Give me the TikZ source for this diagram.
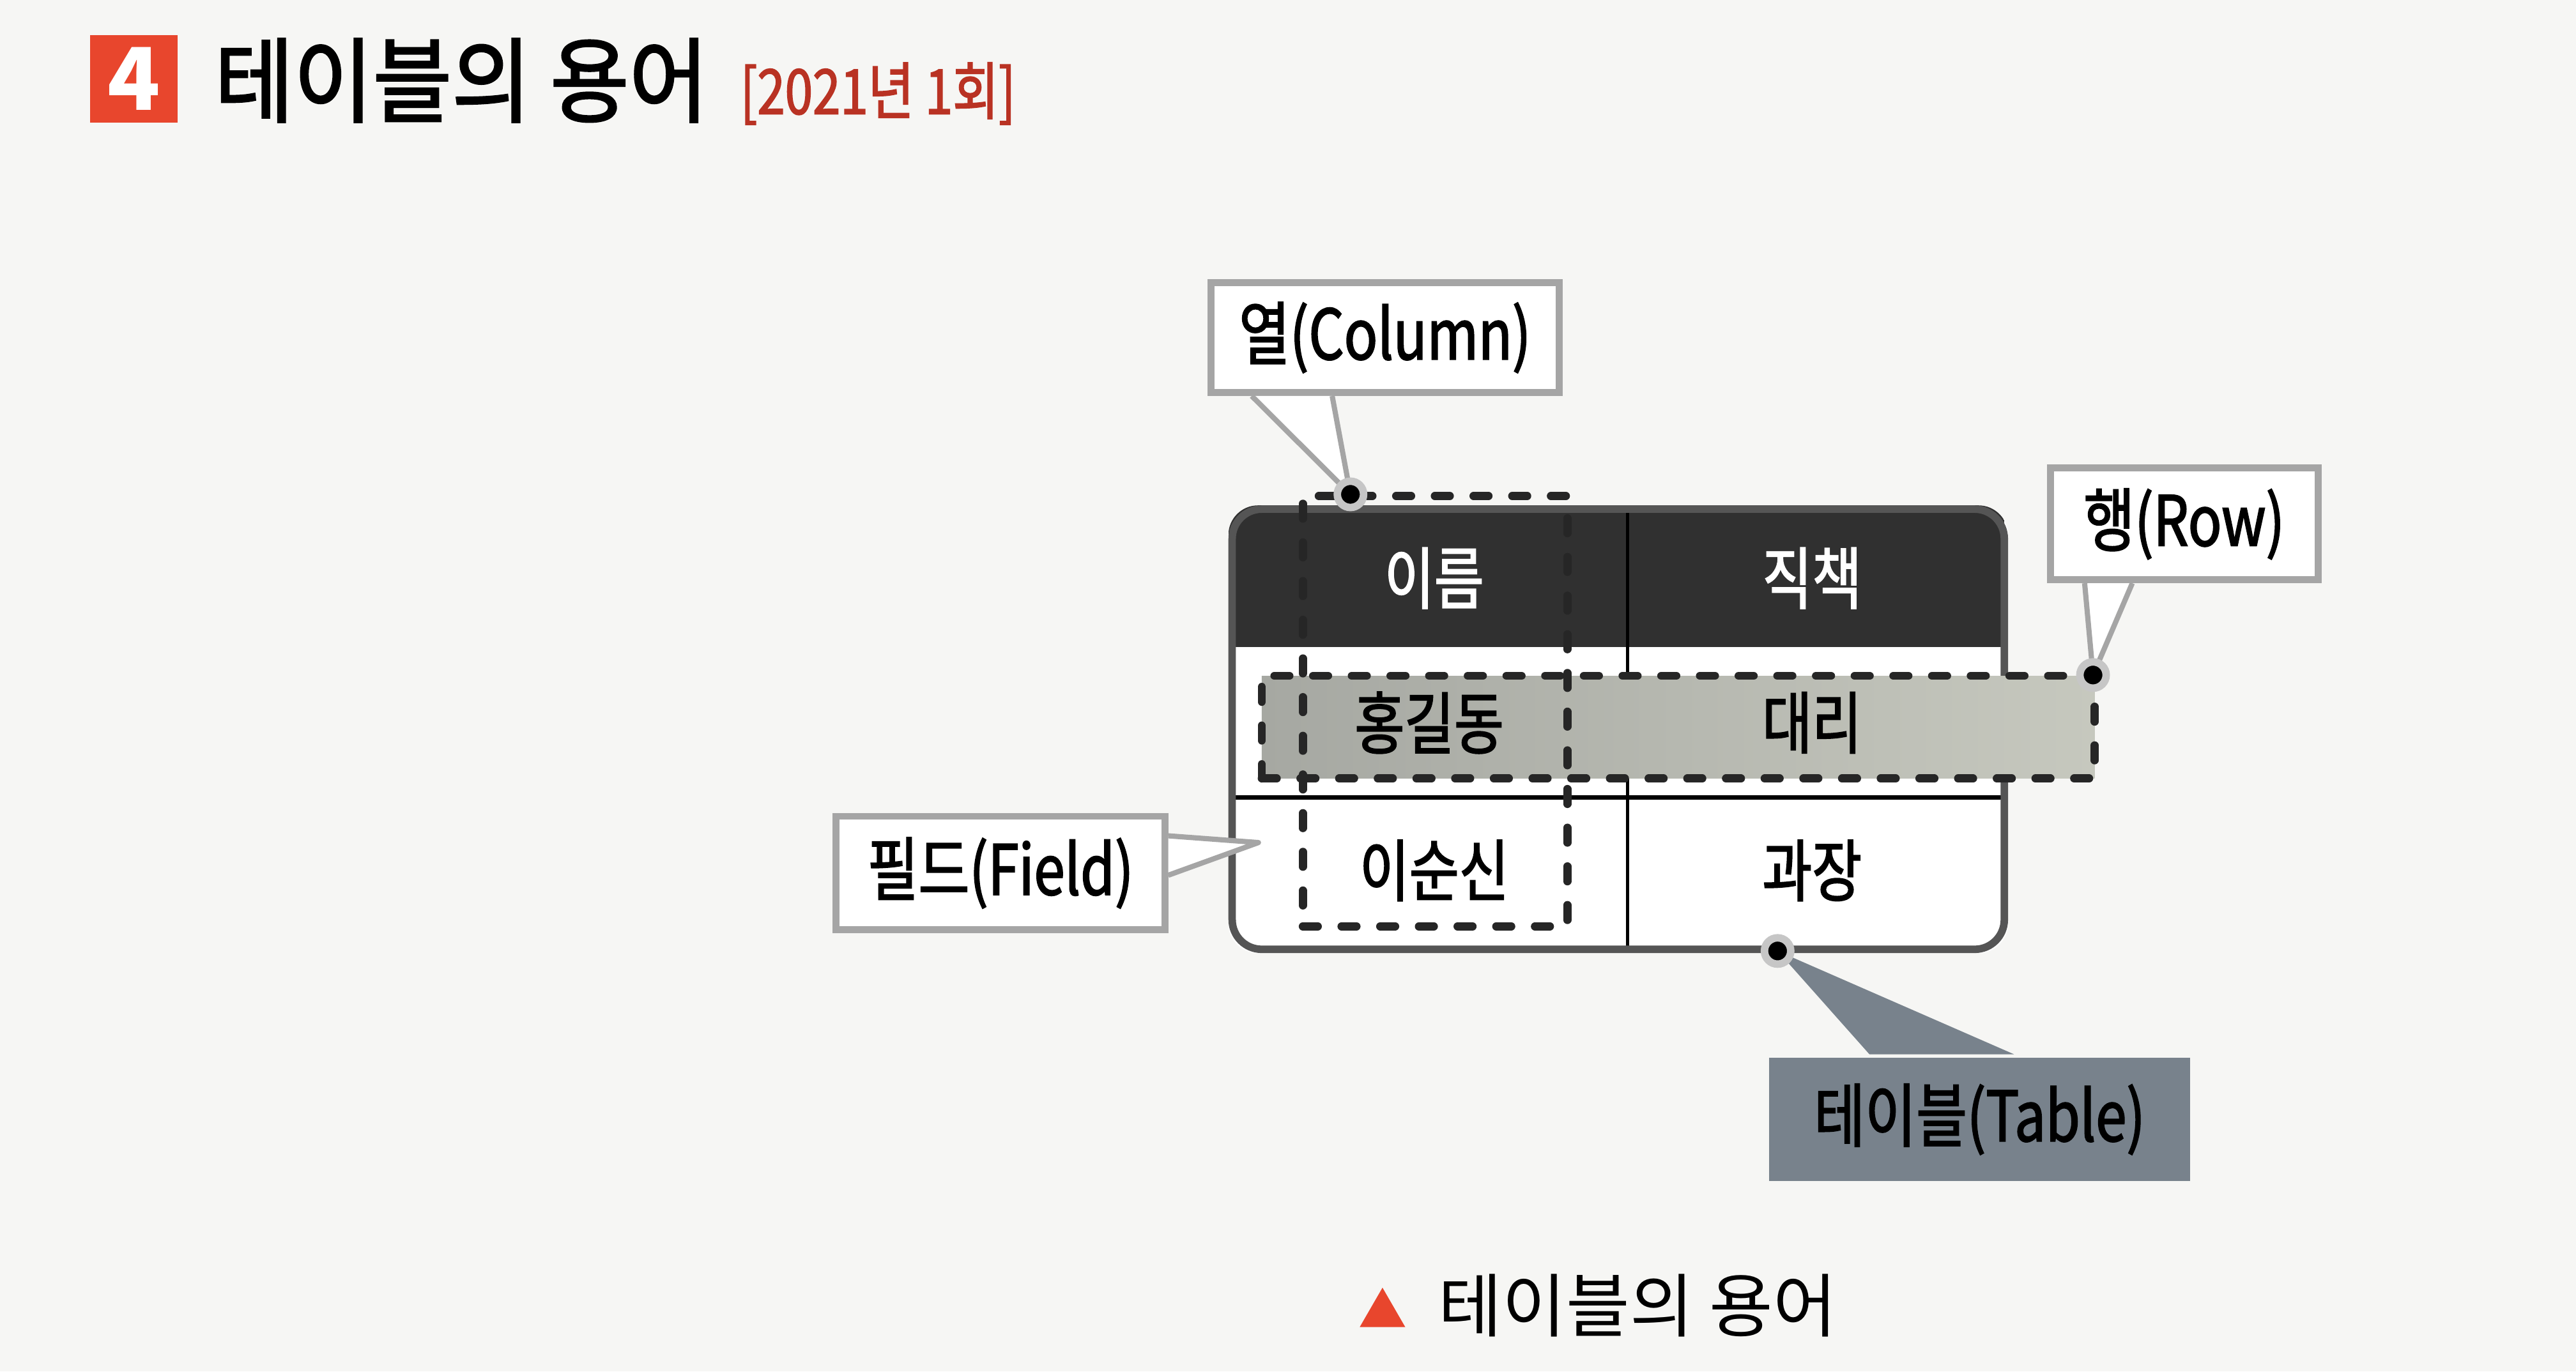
\documentclass[tikz,border=0pt]{standalone}
\usepackage{fontspec}
\setmainfont{Noto Sans CJK KR}
\newfontfamily\cellkr{Noto Sans CJK KR}[FakeStretch=0.8, FakeBold=1.8]
\newfontfamily\titlekr{Noto Sans CJK KR}[FakeStretch=0.93, FakeBold=2]
\usepackage{tikz}
\usetikzlibrary{shapes.geometric}
\pgfdeclarelayer{bg}
\pgfsetlayers{bg,main}
\definecolor{paper}{RGB}{246,246,244}
\definecolor{headdark}{RGB}{48,48,48}
\definecolor{tableline}{RGB}{85,85,85}
\definecolor{bandleft}{RGB}{166,168,162}
\definecolor{bandright}{RGB}{198,200,190}
\definecolor{notegrey}{RGB}{165,165,165}
\definecolor{slate}{RGB}{120,130,140}
\definecolor{markred}{RGB}{232,70,45}
\definecolor{yearred}{RGB}{185,50,35}
\tikzset{
    tcell/.style={inner sep=0pt, font=\cellkr\fontsize{11.7}{13}\selectfont},
    headcell/.style={tcell, text=white},
    notebox/.style={draw=notegrey, line width=1.2pt, fill=white, inner sep=0pt,
        font=\cellkr\fontsize{12}{14}\selectfont},
    callouttail/.style={draw=notegrey, line width=0.9pt, fill=white, line join=round},
    dashframe/.style={draw=black!85, line width=1.4pt, dash pattern=on 2.6pt off 4.1pt,
        line cap=round, inner sep=0pt},
    dotmark/.style={circle, fill=black, draw=gray!45, line width=1.3pt, inner sep=0pt,
        minimum size=0.16cm}
}
\begin{document}
\begin{tikzpicture}
    \useasboundingbox (0cm, 0cm) rectangle (15.68cm, 8.35cm);

    \node (num) [fill=markred, text=white, minimum size=0.53cm, inner sep=0pt,
        font=\bfseries\fontsize{15}{16}\selectfont] at (0.815cm, 7.87cm) {4};
    \node (title) [anchor=west, inner sep=0pt, font=\titlekr\fontsize{16}{18}\selectfont]
        at (1.30cm, 7.86cm) {테이블의 용어};
    \node (year) [anchor=west, inner sep=0pt, text=yearred,
        font=\cellkr\fontsize{10.8}{12}\selectfont] at (4.50cm, 7.78cm) {[2021년 1회]};

    \node (tbl) [draw=tableline, line width=1.3pt, rounded corners=0.18cm,
        minimum width=4.70cm, minimum height=2.68cm, inner sep=0pt] at (9.85cm, 3.91cm) {};
    \coordinate (headcut) at (12.20cm, 4.41cm);
    \coordinate (divtop) at (9.906cm, 5.25cm);
    \coordinate (divbot) at (9.906cm, 2.57cm);
    \coordinate (rowleft) at (7.50cm, 3.495cm);
    \coordinate (rowright) at (12.20cm, 3.495cm);

    \begin{pgfonlayer}{bg}
        \fill[paper] (0cm, 0cm) rectangle (15.68cm, 8.35cm);
        \fill[white, rounded corners=0.18cm] (tbl.south west) rectangle (tbl.north east);
        \begin{scope}
            \clip[rounded corners=0.18cm] (tbl.south west) rectangle (tbl.north east);
            \fill[headdark] (tbl.north west) rectangle (headcut);
        \end{scope}
        \draw[black, line width=0.5pt] (divtop) -- (divbot);
        \draw[black, line width=0.7pt] (rowleft) -- (rowright);
    \end{pgfonlayer}

    \node (rowband) [dashframe, left color=bandleft, right color=bandright,
        minimum width=5.07cm, minimum height=0.625cm] at (10.215cm, 3.9225cm) {};
    \node (colframe) [dashframe, minimum width=1.61cm, minimum height=2.62cm]
        at (8.735cm, 4.02cm) {};

    \node (hname) [headcell] at (8.73cm, 4.83cm) {이름};
    \node (hrole) [headcell] at (11.03cm, 4.83cm) {직책};
    \node (r1name) [tcell] at (8.70cm, 3.95cm) {홍길동};
    \node (r1role) [tcell] at (11.03cm, 3.95cm) {대리};
    \node (r2name) [tcell] at (8.73cm, 3.05cm) {이순신};
    \node (r2role) [tcell] at (11.03cm, 3.05cm) {과장};

    \node (colnote) [notebox, minimum width=2.12cm, minimum height=0.67cm]
        at (8.43cm, 6.295cm) {열(Column)};
    \node (rownote) [notebox, minimum width=1.63cm, minimum height=0.68cm]
        at (13.295cm, 5.16cm) {행(Row)};
    \node (fieldnote) [notebox, minimum width=2.00cm, minimum height=0.69cm]
        at (6.09cm, 3.035cm) {필드(Field)};
    \node (tblnote) [notebox, draw=none, fill=slate, minimum width=2.56cm, minimum height=0.75cm]
        at (12.05cm, 1.535cm) {테이블(Table)};

    \coordinate (coldot) at (8.22cm, 5.34cm);
    \coordinate (rowdot) at (12.74cm, 4.24cm);
    \coordinate (tbldot) at (10.82cm, 2.56cm);
    \coordinate (fieldtip) at (7.66cm, 3.22cm);

    \draw[callouttail] ([xshift=0.27cm]colnote.south west) -- (coldot) -- ([xshift=0.76cm]colnote.south west);
    \draw[callouttail] ([xshift=0.23cm]rownote.south west) -- (rowdot) -- ([xshift=0.52cm]rownote.south west);
    \draw[callouttail] ([yshift=-0.14cm]fieldnote.north east) -- (fieldtip) -- ([yshift=-0.38cm]fieldnote.north east);
    \fill[slate] ([xshift=0.63cm]tblnote.north west) -- (tbldot) -- ([xshift=1.51cm]tblnote.north west) -- cycle;

    \node (coldotmark) [dotmark] at (coldot) {};
    \node (rowdotmark) [dotmark] at (rowdot) {};
    \node (tbldotmark) [dotmark] at (tbldot) {};

    \node (capmark) [regular polygon, regular polygon sides=3, fill=markred,
        minimum size=0.32cm, inner sep=0pt] at (8.415cm, 0.35cm) {};
    \node (caption) [anchor=west, inner sep=0pt, font=\fontsize{12}{14}\selectfont]
        at (8.75cm, 0.40cm) {테이블의 용어};
\end{tikzpicture}
\end{document}
